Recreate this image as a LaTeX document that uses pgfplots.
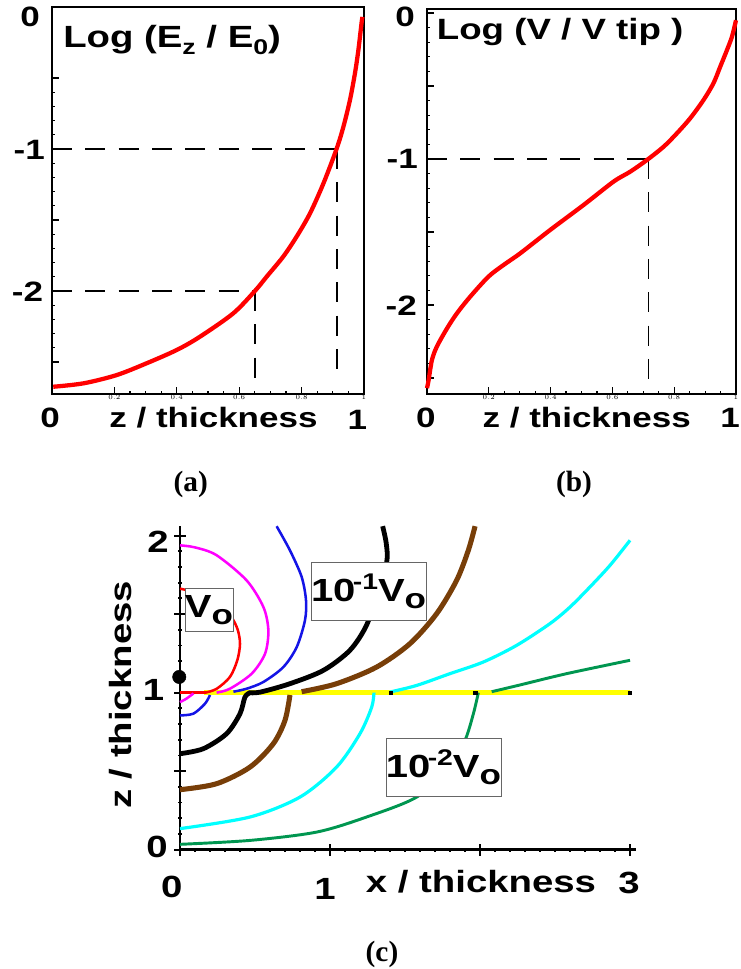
\documentclass[border=0pt]{standalone}
\usepackage{pgfplots}
\pgfplotsset{compat=1.18}
\usepackage{fontspec}
\setmainfont{Liberation Serif}
\newfontfamily\lsans[FakeStretch=1.25]{Liberation Sans}
\newcommand{\BF}[1]{\fontsize{#1}{#1}\selectfont\lsans\bfseries}
\definecolor{cbrown}{RGB}{120,62,8}
\definecolor{cgreen}{RGB}{0,150,80}
\definecolor{cblue}{RGB}{20,20,230}
\definecolor{ccyan}{RGB}{0,255,255}
\definecolor{cmag}{RGB}{255,0,255}
\definecolor{cyel}{RGB}{255,255,0}
\definecolor{cred}{RGB}{255,0,0}
\begin{document}
\begin{tikzpicture}
\useasboundingbox (0,0) rectangle (555pt,726.75pt);
% ---------------- (a)
\begin{axis}[at={(39pt,431.25pt)}, anchor=south west, scale only axis,
  width=234pt, height=290.25pt,
  xmin=0, xmax=1, ymin=-2.725, ymax=0,
  axis line style={line width=2.2pt},
  xtick={0.2,0.4,0.6,0.8,1}, minor x tick num=3,
  ytick={-2.5,-2,-1.5,-1,-0.5}, minor y tick num=4, yticklabels={},
  xtick pos=bottom, ytick pos=left,
  xticklabel style={font=\fontsize{4}{4}\selectfont, inner sep=0.5pt},
  major tick length=5pt, minor tick length=2pt,
  every tick/.style={black, line width=0.9pt},
  clip=false]
\addplot[black, line width=1.4pt, dash pattern=on 15pt off 10pt] coordinates {(0,-1) (0.913,-1)};
\addplot[black, line width=1.4pt, dash pattern=on 15pt off 10pt] coordinates {(0.913,-1) (0.913,-2.64)};
\addplot[black, line width=1.4pt, dash pattern=on 15pt off 10pt] coordinates {(0,-2) (0.65,-2)};
\addplot[black, line width=1.4pt, dash pattern=on 15pt off 10pt] coordinates {(0.65,-2) (0.65,-2.64)};
\addplot[cred, line width=3.2pt, smooth] coordinates {
(0.004,-2.674) (0.101,-2.65) (0.207,-2.592) (0.303,-2.509) (0.400,-2.415) (0.474,-2.322)
(0.581,-2.157) (0.651,-1.998) (0.688,-1.899) (0.741,-1.758) (0.784,-1.617) (0.827,-1.453)
(0.870,-1.242) (0.912,-1.0) (0.934,-0.843) (0.955,-0.655) (0.971,-0.467) (0.982,-0.303)
(0.992,-0.115) (0.995,-0.07)};
\end{axis}
% ---------------- (b)
\begin{axis}[at={(320.25pt,431.25pt)}, anchor=south west, scale only axis,
  width=231.75pt, height=288.75pt,
  xmin=0, xmax=1, ymin=-2.61, ymax=0.027,
  axis line style={line width=2.2pt},
  xtick={0.2,0.4,0.6,0.8,1}, minor x tick num=3,
  ytick={-2.5,-2,-1.5,-1,-0.5,0}, minor y tick num=4, yticklabels={},
  xtick pos=bottom, ytick pos=left,
  xticklabel style={font=\fontsize{4}{4}\selectfont, inner sep=0.5pt},
  major tick length=5pt, minor tick length=2pt,
  every tick/.style={black, line width=0.9pt},
  clip=false]
\addplot[black, line width=1.4pt, dash pattern=on 15pt off 10pt] coordinates {(0,-1) (0.717,-1)};
\addplot[black, line width=1.4pt, dash pattern=on 15pt off 10pt] coordinates {(0.717,-1) (0.717,-2.57)};
\addplot[cred, line width=3.2pt, smooth] coordinates {
(0.0,-2.57) (0.0053,-2.514) (0.016,-2.377) (0.032,-2.285) (0.065,-2.16) (0.097,-2.057)
(0.140,-1.943) (0.199,-1.806) (0.248,-1.726) (0.302,-1.646) (0.399,-1.486)
(0.507,-1.315) (0.604,-1.155) (0.658,-1.087) (0.712,-1.007) (0.766,-0.916)
(0.809,-0.824) (0.852,-0.721) (0.895,-0.596) (0.927,-0.482) (0.949,-0.368)
(0.971,-0.253) (0.987,-0.162) (1.0,-0.05)};
\end{axis}
% ---------------- (c)
\begin{axis}[at={(135pt,89.5pt)}, anchor=south west, scale only axis,
  width=342pt, height=242.6pt,
  xmin=0, xmax=3.04, ymin=0, ymax=2.06,
  axis x line*=bottom, axis y line*=left,
  axis line style={-, line width=2pt},
  xtick={0,1,2,3}, xticklabels={}, minor x tick num=9,
  ytick={0,0.5,1,1.5,2}, yticklabels={}, minor y tick num=4,
  xtick pos=bottom, ytick pos=left,
  tick align=center,
  major tick length=9pt, minor tick length=3pt,
  every tick/.style={black, line width=1.4pt},
  clip=false]
\addplot[cyel, line width=3.8pt] coordinates {(0.16,1) (3.0,1)};
\addplot[black, only marks, mark=square*, mark size=1.3pt] coordinates {(1.404,1) (1.967,1) (3.0,1)};
% red
\addplot[cred, line width=1.9pt, smooth] coordinates {
(0,1.662) (0.1,1.64) (0.2,1.6) (0.28,1.545) (0.344,1.48) (0.385,1.4) (0.4,1.31)
(0.382,1.206) (0.333,1.10) (0.245,1.025) (0.17,1.0)};
\addplot[cred, line width=1.9pt] coordinates {(0,1) (0.17,1)};
% magenta
\addplot[cmag, line width=1.9pt, smooth] coordinates {
(0,1.938) (0.1,1.925) (0.244,1.875) (0.444,1.715) (0.556,1.545) (0.589,1.397)
(0.567,1.248) (0.478,1.121) (0.333,1.025) (0.244,1.0)};
\addplot[cmag, line width=1.9pt, smooth] coordinates {(0,0.94) (0.04,0.96) (0.09,0.995)};
% blue
\addplot[cblue, line width=1.9pt, smooth] coordinates {
(0.644,2.06) (0.733,1.906) (0.811,1.737) (0.84,1.588) (0.833,1.46) (0.778,1.29)
(0.689,1.163) (0.556,1.068) (0.444,1.025) (0.356,1.006)};
\addplot[cblue, line width=1.9pt, smooth] coordinates {(0,0.855) (0.089,0.866) (0.167,0.93) (0.2,0.985)};
% black
\addplot[black, line width=3.6pt, smooth] coordinates {
(0.46,1.0) (0.533,1.003) (0.733,1.057) (0.956,1.142) (1.133,1.27) (1.244,1.43)
(1.311,1.63) (1.378,1.83) (1.375,1.95) (1.351,2.06)};
\addplot[black, line width=3.6pt, smooth] coordinates {
(0,0.611) (0.156,0.643) (0.311,0.739) (0.4,0.866) (0.433,0.972) (0.467,1.0)};
% brown
\addplot[cbrown, line width=3.8pt, smooth] coordinates {
(0.811,1.006) (1.044,1.057) (1.311,1.163) (1.533,1.312) (1.711,1.503)
(1.844,1.715) (1.922,1.906) (1.967,2.06)};
\addplot[cbrown, line width=3.8pt, smooth] coordinates {
(0,0.382) (0.244,0.42) (0.467,0.526) (0.622,0.675) (0.7,0.824) (0.733,0.985)};
% cyan
\addplot[ccyan, line width=2.4pt, smooth] coordinates {
(1.4,1.004) (1.578,1.046) (1.8,1.121) (2.022,1.195) (2.244,1.301) (2.467,1.44)
(2.6,1.545) (2.733,1.673) (2.867,1.811) (3.0,1.97)};
\addplot[ccyan, line width=2.4pt, smooth] coordinates {
(0,0.134) (0.467,0.208) (0.8,0.335) (1.044,0.526) (1.2,0.739) (1.278,0.908) (1.293,1.0)};
% green
\addplot[cgreen, line width=2.2pt, smooth] coordinates {
(2.078,1.006) (2.267,1.049) (2.578,1.121) (3.0,1.206)};
\addplot[cgreen, line width=2.2pt, smooth] coordinates {
(0,0.034) (0.467,0.059) (0.911,0.112) (1.244,0.208) (1.578,0.335) (1.8,0.526)
(1.9,0.696) (1.956,0.866) (1.989,1.0)};
% tip dot
\addplot[black, only marks, mark=*, mark size=5pt] coordinates {(-0.005,1.1)};
\end{axis}
% ---------------- texts (a)
\node[anchor=base west, inner sep=0] at (47.25pt,690.75pt) {\BF{23}Log (E\raisebox{-5pt}{\BF{16}z} / E\raisebox{-5pt}{\BF{16}0})};
\node[anchor=east, inner sep=0] at (30pt,714.2pt) {\BF{21}0};
\node[anchor=east, inner sep=0] at (33.75pt,614.6pt) {\BF{21}-1};
\node[anchor=east, inner sep=0] at (32.5pt,507.75pt) {\BF{21}-2};
\node[inner sep=0] at (37.5pt,413.25pt) {\BF{21}0};
\node[inner sep=0] at (268.1pt,411.75pt) {\BF{21}1};
\node[inner sep=0] at (160.1pt,413.25pt) {\BF{21}z / thickness};
\node[inner sep=0] at (143pt,363.75pt) {\fontsize{22}{22}\selectfont\bfseries (a)};
% ---------------- texts (b)
\node[anchor=base west, inner sep=0] at (327.5pt,696.75pt) {\BF{22}Log (V / V tip )};
\node[anchor=east, inner sep=0] at (311.25pt,714.2pt) {\BF{21}0};
\node[anchor=east, inner sep=0] at (313.5pt,607.5pt) {\BF{21}-1};
\node[anchor=east, inner sep=0] at (312.75pt,497.25pt) {\BF{21}-2};
\node[inner sep=0] at (319.35pt,413.25pt) {\BF{21}0};
\node[anchor=east, inner sep=0] at (555pt,413.25pt) {\BF{21}1};
\node[inner sep=0] at (440pt,413.25pt) {\BF{21}z / thickness};
\node[inner sep=0] at (430.5pt,363.75pt) {\fontsize{22}{22}\selectfont\bfseries (b)};
% ---------------- texts (c)
\node[inner sep=0] at (118.5pt,320.25pt) {\BF{23}2};
\node[inner sep=0] at (115.1pt,209.25pt) {\BF{23}1};
\node[inner sep=0] at (117.75pt,91.5pt) {\BF{23}0};
\node[inner sep=0] at (128.8pt,61.7pt) {\BF{23}0};
\node[inner sep=0] at (243.75pt,60pt) {\BF{23}1};
\node[inner sep=0] at (471.75pt,64.5pt) {\BF{23}3};
\node[inner sep=0] at (360.75pt,65.25pt) {\BF{23}x / thickness};
\node[inner sep=0, rotate=90] at (90.75pt,205.5pt) {\BF{23}z / thickness};
\node[draw=black!60, line width=0.6pt, fill=white, minimum width=33pt, minimum height=32pt, inner sep=0] at (156.75pt,269.25pt)
  {\BF{24}V\raisebox{-5pt}{\BF{21}o}};
\node[draw=black!60, line width=0.6pt, fill=white, minimum width=74pt, minimum height=44pt, inner sep=0] at (276.4pt,283.1pt)
  {\BF{24}10\hspace{-2pt}\raisebox{9pt}{\BF{17}-1}V\raisebox{-5pt}{\BF{21}o}};
\node[draw=black!60, line width=0.6pt, fill=white, minimum width=74pt, minimum height=44pt, inner sep=0] at (332.6pt,151.1pt)
  {\BF{24}10\hspace{-2pt}\raisebox{9pt}{\BF{17}-2}V\raisebox{-5pt}{\BF{21}o}};
\node[inner sep=0] at (286.5pt,11.25pt) {\fontsize{22}{22}\selectfont\bfseries (c)};
\end{tikzpicture}
\end{document}
